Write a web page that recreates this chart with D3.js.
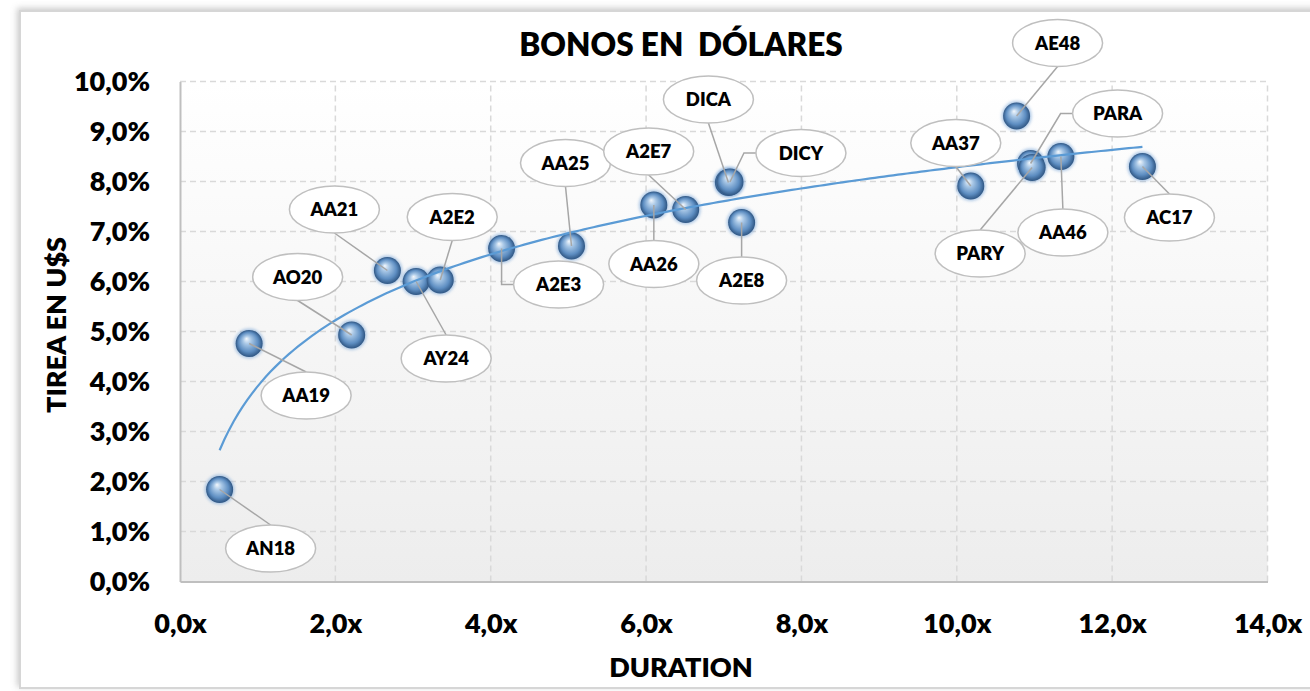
<!DOCTYPE html>
<html lang="es">
<head>
<meta charset="UTF-8">
<title>Bonos en dólares</title>
<script src="https://cdnjs.cloudflare.com/ajax/libs/d3/7.8.5/d3.min.js"></script>
<style>
  body { margin: 0; background: #fff; }
  text { font-family: Lato, "Open Sans", sans-serif; font-weight: 800; fill: #000; }
  .grid line { stroke: #d9d9d9; stroke-width: 1.5; stroke-dasharray: 6,4; }
  .callout ellipse { fill: #fff; stroke: #bfbfbf; stroke-width: 1.5; }
  .leader { fill: none; stroke: #a6a6a6; stroke-width: 1.5; }
</style>
</head>
<body>
<div id="chart"></div>
<script>
// bond tickers, duration (x) and yield in % (y)
var bonds    = ["AN18","AA19","AO20","AA21","AY24","A2E2","A2E3","AA25","AA26","A2E7","DICA","DICY","A2E8","AA37","AE48","PARA","PARY","AA46","AC17"];
var duration = [0.51, 0.89, 2.21, 2.67, 3.04, 3.35, 4.14, 5.04, 6.10, 6.51, 7.06, 7.08, 7.23, 10.18, 10.77, 10.95, 10.97, 11.34, 12.39];
var tirea    = [1.84, 4.76, 4.93, 6.22, 6.00, 6.03, 6.66, 6.71, 7.53, 7.44, 7.98, 7.99, 7.18, 7.91, 9.31, 8.36, 8.28, 8.50, 8.30];

var xTicks = [0, 2, 4, 6, 8, 10, 12, 14];
var yTicks = [0, 1, 2, 3, 4, 5, 6, 7, 8, 9, 10];

// where each callout sits relative to its marker (pixels), elbow = joins on left side
var calloutPos = [
  [51, 59], [57, 52], [-54, -58], [-53, -61], [30, 77], [12, -63], [57, 36, "elbow"],
  [-6, -83], [0, 59], [-37, -58], [-20, -83], [71, -29, "elbow"], [0, 58],
  [-15, -43], [41, -73], [87, -50, "elbow"], [-52, 86], [2, 76], [27, 51]
];

var W = 1310, H = 691;
var margin = {top: 81.5, right: 42.5, bottom: 109.5, left: 180};

var loc = d3.formatLocale({decimal: ",", thousands: ".", grouping: [3], currency: ["$", ""]});
var f1 = loc.format(".1f");

var x = d3.scaleLinear().domain([0, 14]).range([margin.left, W - margin.right]);
var y = d3.scaleLinear().domain([0, 10]).range([H - margin.bottom, margin.top]);

var svg = d3.select("#chart").append("svg")
    .attr("width", W)
    .attr("height", H);

var defs = svg.append("defs");

var shadow = defs.append("filter").attr("id", "frameShadow")
    .attr("x", "-5%").attr("y", "-5%").attr("width", "110%").attr("height", "110%");
shadow.append("feDropShadow")
    .attr("dx", -2).attr("dy", -2).attr("stdDeviation", 3)
    .attr("flood-color", "#8c8c8c").attr("flood-opacity", 0.45);

var bg = defs.append("linearGradient").attr("id", "plotBg")
    .attr("x1", 0).attr("y1", 0).attr("x2", 0).attr("y2", 1);
bg.append("stop").attr("offset", "0%").attr("stop-color", "#ffffff");
bg.append("stop").attr("offset", "100%").attr("stop-color", "#ededed");

var ball = defs.append("radialGradient").attr("id", "ball")
    .attr("cx", "50%").attr("cy", "50%").attr("r", "50%")
    .attr("fx", "40%").attr("fy", "32%");
ball.append("stop").attr("offset", "0%").attr("stop-color", "#f2f7fc");
ball.append("stop").attr("offset", "30%").attr("stop-color", "#a8c7e6");
ball.append("stop").attr("offset", "72%").attr("stop-color", "#5e8ec2");
ball.append("stop").attr("offset", "100%").attr("stop-color", "#2f5683");

var glow = defs.append("filter").attr("id", "glow");
glow.append("feGaussianBlur").attr("stdDeviation", 1.6);

// outer chart frame
svg.append("rect")
    .attr("x", 20).attr("y", 11)
    .attr("width", W + 20).attr("height", 677)
    .attr("fill", "#fff")
    .attr("stroke", "#d6d6d6")
    .attr("stroke-width", 2)
    .attr("filter", "url(#frameShadow)");

// plot area background
svg.append("rect")
    .attr("x", x(0)).attr("y", y(10))
    .attr("width", x(14) - x(0)).attr("height", y(0) - y(10))
    .attr("fill", "url(#plotBg)");

// gridlines
var grid = svg.append("g").attr("class", "grid");
grid.selectAll(".gy").data(yTicks.slice(1)).enter().append("line")
    .attr("x1", x(0)).attr("x2", x(14))
    .attr("y1", function(d) { return y(d); })
    .attr("y2", function(d) { return y(d); });
grid.selectAll(".gx").data(xTicks.slice(1)).enter().append("line")
    .attr("y1", y(0)).attr("y2", y(10))
    .attr("x1", function(d) { return x(d); })
    .attr("x2", function(d) { return x(d); });

// axes
var xAxis = svg.append("g")
    .attr("transform", "translate(0," + y(0) + ")")
    .call(d3.axisBottom(x).tickValues(xTicks).tickSize(0).tickPadding(32)
        .tickFormat(function(d) { return f1(d) + "x"; }));
var yAxis = svg.append("g")
    .attr("transform", "translate(" + x(0) + ",0)")
    .call(d3.axisLeft(y).tickValues(yTicks).tickSize(0).tickPadding(30)
        .tickFormat(function(d) { return f1(d) + "%"; }));
[xAxis, yAxis].forEach(function(a) {
    a.select(".domain").attr("stroke", "#bfbfbf").attr("stroke-width", 2);
    a.selectAll("text").style("font-size", "27px").attr("fill", "#000")
        .style("font-family", "Lato, 'Open Sans', sans-serif");
});
xAxis.selectAll("text").attr("dy", "0.71em");

// titles
svg.append("text")
    .attr("x", 681).attr("y", 56)
    .attr("text-anchor", "middle")
    .style("font-size", "31.5px")
    .attr("xml:space", "preserve")
    .text("BONOS EN  DÓLARES");

svg.append("text")
    .attr("x", 681).attr("y", 677)
    .attr("text-anchor", "middle")
    .style("font-size", "27px")
    .text("DURATION");

svg.append("text")
    .attr("transform", "translate(66," + 325 + ") rotate(-90)")
    .attr("text-anchor", "middle")
    .style("font-size", "27px")
    .text("TIREA EN U$S");

var pts = bonds.map(function(b, i) {
    return {name: b, x: duration[i], y: tirea[i], pos: calloutPos[i]};
});

// markers
var marks = svg.append("g");
marks.selectAll(".halo").data(pts).enter().append("circle")
    .attr("cx", function(d) { return x(d.x); })
    .attr("cy", function(d) { return y(d.y); })
    .attr("r", 15)
    .attr("fill", "#6f9fd4")
    .attr("opacity", 0.55)
    .attr("filter", "url(#glow)");
marks.selectAll(".ball").data(pts).enter().append("circle")
    .attr("cx", function(d) { return x(d.x); })
    .attr("cy", function(d) { return y(d.y); })
    .attr("r", 13.5)
    .attr("fill", "url(#ball)");

// logarithmic trendline, least squares on ln(duration)
var lx = duration.map(Math.log);
var mx = d3.mean(lx), my = d3.mean(tirea);
var b = d3.sum(lx, function(v, i) { return (v - mx) * (tirea[i] - my); }) /
        d3.sum(lx, function(v) { return (v - mx) * (v - mx); });
var a = my - b * mx;
var xmin = d3.min(duration), xmax = d3.max(duration);
var trend = d3.range(0, 201).map(function(k) {
    var xv = xmin + (xmax - xmin) * k / 200;
    return [xv, a + b * Math.log(xv)];
});
svg.append("path")
    .datum(trend)
    .attr("fill", "none")
    .attr("stroke", "#5b9bd5")
    .attr("stroke-width", 2.2)
    .attr("d", d3.line().x(function(d) { return x(d[0]); }).y(function(d) { return y(d[1]); }));

// callouts
var rx = 45, ry = 23.5;
var leaders = svg.append("g");
pts.forEach(function(d) {
    var px = x(d.x), py = y(d.y);
    var cx = px + d.pos[0], cy = py + d.pos[1];
    var p;
    if (d.pos[2] === "elbow") {
        p = [[px, py], [cx - rx - 12, cy], [cx - rx, cy]];
    } else {
        p = [[px, py], [cx, d.pos[1] > 0 ? cy - ry : cy + ry]];
    }
    leaders.append("path").attr("class", "leader").attr("d", d3.line()(p));
});

var callout = svg.selectAll(".callout").data(pts).enter().append("g")
    .attr("class", "callout")
    .attr("transform", function(d) {
        return "translate(" + (x(d.x) + d.pos[0]) + "," + (y(d.y) + d.pos[1]) + ")";
    });
callout.append("ellipse").attr("rx", rx).attr("ry", ry);
callout.append("text")
    .attr("text-anchor", "middle")
    .attr("dy", "0.36em")
    .style("font-size", "18.5px")
    .text(function(d) { return d.name; });
</script>
</body>
</html>
